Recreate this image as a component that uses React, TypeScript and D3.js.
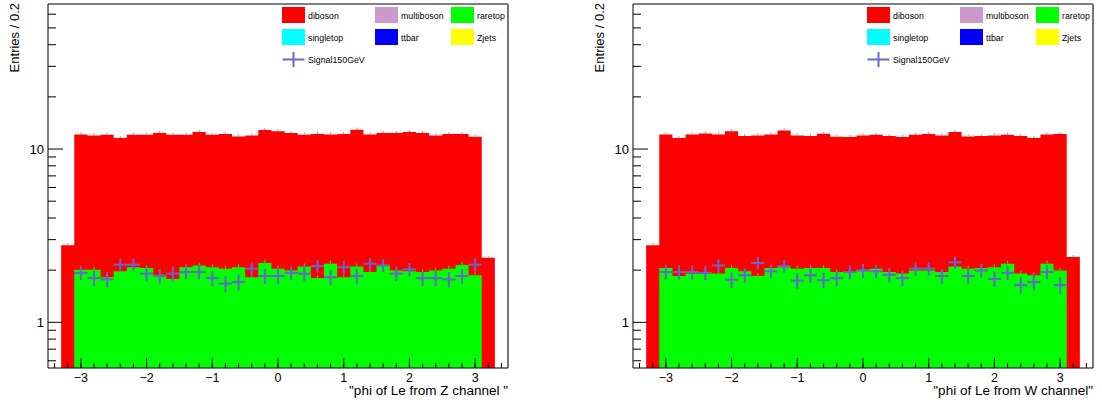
import React from "react";
import * as d3 from "d3";

// ---------- data ----------
const binLow = [
  -3.3, -3.1, -2.9, -2.7, -2.5, -2.3, -2.1, -1.9, -1.7, -1.5, -1.3, -1.1, -0.9, -0.7, -0.5, -0.3, -0.1,
  0.1, 0.3, 0.5, 0.7, 0.9, 1.1, 1.3, 1.5, 1.7, 1.9, 2.1, 2.3, 2.5, 2.7, 2.9, 3.1,
];
const BIN_W = 0.2;

const dibosonZ = [
  2.78, 10.14, 9.98, 10.28, 9.61, 10.02, 10.04, 10.49, 10.32, 10.02, 10.4, 10.02, 10.17, 9.75, 10.17, 10.67,
  10.61, 10.38, 10.0, 10.41, 9.97, 10.39, 10.83, 10.2, 10.23, 10.38, 10.56, 10.42, 10.0, 10.17, 10.07, 9.91, 2.36,
];
const raretopZ = [
  0, 2.01, 2.01, 1.82, 1.97, 2.08, 2.06, 1.88, 1.78, 2.08, 2.13, 2.08, 2.04, 2.08, 1.82, 2.2, 2.04, 1.99, 2.1,
  1.8, 2.18, 1.82, 2.1, 1.95, 2.14, 1.99, 1.97, 1.95, 1.99, 2.04, 2.14, 1.87, 0,
];
const signalZ = [
  null, 1.93, 1.8, 1.77, 2.15, 2.15, 1.91, 1.85, 1.91, 1.95, 1.95, 1.8, 1.67, 1.71, 2.04, 1.85, 1.85, 1.93, 1.91,
  2.11, 1.82, 2.08, 1.85, 2.18, 2.13, 1.91, 2.02, 1.8, 1.8, 1.77, 1.85, 2.15, null,
];

const dibosonW = [
  2.78, 10.09, 9.73, 10.24, 10.4, 10.24, 10.59, 9.92, 10.14, 10.09, 10.73, 9.95, 9.83, 10.2, 9.83, 9.76, 9.98,
  10.06, 9.94, 9.82, 10.11, 10.22, 10.04, 10.43, 9.79, 9.83, 9.91, 9.92, 9.98, 9.71, 9.97, 10.22, 2.38,
];
const raretopW = [
  0, 2.06, 1.85, 1.91, 1.91, 1.91, 2.06, 1.97, 1.85, 2.06, 2.08, 2.04, 2.06, 2.06, 1.95, 1.97, 2.01, 2.04, 1.95,
  1.91, 1.99, 1.99, 1.95, 2.1, 2.04, 2.06, 2.08, 2.18, 1.91, 1.87, 2.18, 1.99, 0,
];
const signalW = [
  null, 1.95, 1.95, 1.95, 1.93, 2.13, 1.76, 1.87, 2.2, 1.97, 2.11, 1.74, 1.87, 1.75, 1.8, 1.95, 1.99, 1.97, 1.88,
  1.8, 2.04, 2.04, 1.85, 2.22, 1.85, 1.99, 1.78, 1.93, 1.64, 1.71, 1.95, 1.64, null,
];
const SIGNAL_ERR = 0.18;

const legendItems = [
  { name: "diboson", color: "#ff0000" },
  { name: "multiboson", color: "#cc99cc" },
  { name: "raretop", color: "#00ff00" },
  { name: "singletop", color: "#00ffff" },
  { name: "ttbar", color: "#0000ff" },
  { name: "Zjets", color: "#ffff00" },
];
const signalName = "Signal150GeV";

const xTickLabels = [-3, -2, -1, 0, 1, 2, 3];
const yMajorTicks = [1, 10];
const yMinorTicks = [0.6, 0.7, 0.8, 0.9, 2, 3, 4, 5, 6, 7, 8, 9, 20, 30, 40, 50, 60];
const X_DOMAIN: [number, number] = [-3.5, 3.5];
const Y_DOMAIN: [number, number] = [0.545, 68.7];

const panels = [
  { diboson: dibosonZ, raretop: raretopZ, signal: signalZ, title: '"phi of Le from Z channel "', dx: 0 },
  { diboson: dibosonW, raretop: raretopW, signal: signalW, title: '"phi of Le from W channel"', dx: 585 },
];

// ---------- layout ----------
const FL = 48, FR = 508, FT = 4, FB = 368;
const FONT = "'Liberation Sans', Arial, sans-serif";
const SIG_COLOR = "#6666cc";

function stepPath(
  x: d3.ScaleLinear<number, number>,
  y: d3.ScaleLogarithmic<number, number>,
  vals: number[],
) {
  // step outline from the bottom of the frame up to each bin value
  const pts: [number, number][] = [];
  binLow.forEach((lo, i) => {
    const v = vals[i];
    const yy = v > 0 ? y(v) : FB;
    pts.push([x(lo), yy]);
    pts.push([x(lo + BIN_W), yy]);
  });
  const area = d3
    .area<[number, number]>()
    .x((d) => d[0])
    .y0(FB)
    .y1((d) => d[1]);
  return area(pts) || "";
}

function Panel({ p }: { p: (typeof panels)[number] }) {
  const x = d3.scaleLinear().domain(X_DOMAIN).range([FL, FR]);
  const y = d3.scaleLog().domain(Y_DOMAIN).range([FB, FT]);
  const minorX = d3.range(-34, 35, 2).map((v) => v / 10);
  const clipId = `clip${p.dx}`;
  const colW = [282, 375, 451];
  const totals = p.diboson.map((d, i) => d + p.raretop[i]);

  return (
    <g transform={`translate(${p.dx},0)`}>
      <defs>
        <clipPath id={clipId}>
          <rect x={FL} y={FT} width={FR - FL} height={FB - FT} />
        </clipPath>
      </defs>
      <g clipPath={`url(#${clipId})`}>
        <path d={stepPath(x, y, totals)} fill="#ff0000" />
        <path d={stepPath(x, y, p.raretop)} fill="#00ff00" />
        {binLow.map((lo, i) => {
          const g = p.raretop[i];
          const tot = totals[i];
          const xc = x(lo + BIN_W / 2);
          return (
            <g key={"e" + i}>
              <line x1={xc} x2={xc} y1={y(tot) - 2} y2={y(tot)} stroke="#ff7070" strokeWidth={1} />
              {g > 0 && <line x1={xc} x2={xc} y1={y(g) - 3} y2={y(g)} stroke="#00ff00" strokeWidth={1} />}
            </g>
          );
        })}
        {binLow.map((lo, i) => {
          const s = p.signal[i];
          if (s == null) return null;
          const xc = x(lo + BIN_W / 2);
          return (
            <g key={"s" + i} stroke={SIG_COLOR} strokeWidth={2}>
              <line x1={x(lo)} x2={x(lo + BIN_W)} y1={y(s)} y2={y(s)} />
              <line x1={xc} x2={xc} y1={y(s + SIGNAL_ERR)} y2={y(s - SIGNAL_ERR)} />
            </g>
          );
        })}
      </g>

      {/* frame */}
      <line x1={FL} x2={FR} y1={FT} y2={FT} stroke="#000" strokeWidth={1} />
      <line x1={FR} x2={FR} y1={FT} y2={FB} stroke="#777" strokeWidth={2} />
      <line x1={FL} x2={FL} y1={FT} y2={FB} stroke="#000" strokeWidth={1} />
      <line x1={FL} x2={FR} y1={FB} y2={FB} stroke="#000" strokeWidth={1} />

      {/* x ticks */}
      {minorX.map((v) => (
        <line key={"mx" + v} x1={x(v)} x2={x(v)} y1={FB} y2={FB - 5} stroke="#000" strokeWidth={1} />
      ))}
      {xTickLabels.map((v) => (
        <g key={"Mx" + v}>
          <line x1={x(v)} x2={x(v)} y1={FB} y2={FB - 10} stroke="#000" strokeWidth={1} />
          <text x={x(v)} y={382} textAnchor="middle" fontSize={12.5} fontFamily={FONT} fill="#000">
            {v < 0 ? "\u2212" + Math.abs(v) : String(v)}
          </text>
        </g>
      ))}
      {/* y ticks */}
      {yMinorTicks.map((v) => (
        <line key={"my" + v} x1={FL} x2={FL + 8} y1={y(v)} y2={y(v)} stroke="#000" strokeWidth={1} />
      ))}
      {yMajorTicks.map((v) => (
        <g key={"My" + v}>
          <line x1={FL} x2={FL + 15} y1={y(v)} y2={y(v)} stroke="#000" strokeWidth={1} />
          <text x={44} y={y(v) + 4.5} textAnchor="end" fontSize={13} fontFamily={FONT} fill="#000">
            {v}
          </text>
        </g>
      ))}

      {/* titles */}
      <text x={FR} y={395} textAnchor="end" fontSize={13.5} fontFamily={FONT} fill="#000">
        {p.title}
      </text>
      <text transform={`translate(19,3) rotate(-90)`} textAnchor="end" fontSize={13} fontFamily={FONT} fill="#000">
        Entries / 0.2
      </text>

      {/* legend */}
      {legendItems.map((it, k) => {
        const col = k % 3, row = Math.floor(k / 3);
        const bx = colW[col], by = 7 + row * 22;
        return (
          <g key={it.name}>
            <rect x={bx} y={by} width={23} height={16} fill={it.color} />
            <text x={bx + 26} y={by + 11.5} fontSize={8.8} fontFamily={FONT} fill="#000">
              {it.name}
            </text>
          </g>
        );
      })}
      <g stroke={SIG_COLOR} strokeWidth={2}>
        <line x1={282.5} x2={304.5} y1={59.5} y2={59.5} />
        <line x1={293.5} x2={293.5} y1={52} y2={67} />
      </g>
      <text x={308} y={63} fontSize={8.8} fontFamily={FONT} fill="#000">
        {signalName}
      </text>
    </g>
  );
}

export default function App() {
  return (
    <svg
      width={1102}
      height={406}
      style={{ position: "absolute", left: 0, top: 0, background: "#fff" }}
    >
      <rect x={0} y={0} width={1102} height={406} fill="#fff" />
      {panels.map((p) => (
        <Panel key={p.dx} p={p} />
      ))}
    </svg>
  );
}
